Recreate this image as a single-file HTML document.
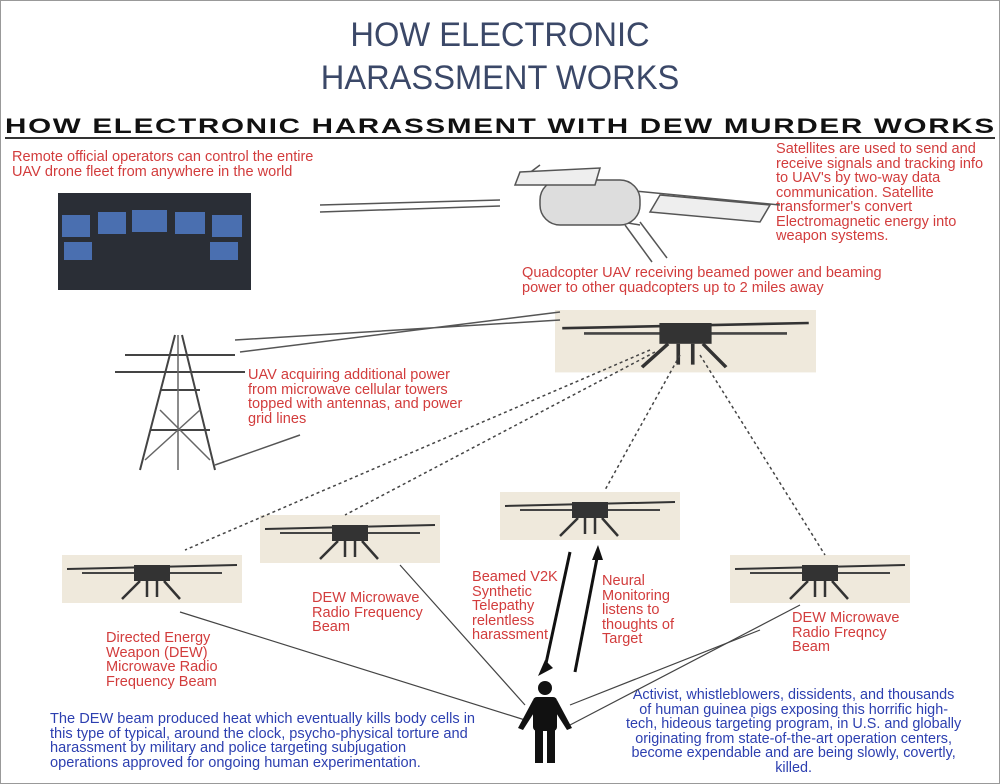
<!DOCTYPE html>
<html><head><meta charset="utf-8"><style>
body{margin:0;width:1000px;height:784px;background:#fff;position:relative;overflow:hidden;font-family:"Liberation Sans",sans-serif}
.t{position:absolute;line-height:14.5px;white-space:nowrap}
.r{color:#d23c3c;font-size:15px;transform:scaleX(0.97);transform-origin:left}
.b{color:#2c3fb0;font-size:14.6px}
</style></head><body>
<div style="position:absolute;left:0;top:0;width:1000px;height:784px;border:1px solid #999;box-sizing:border-box"></div>
<div class="t" style="left:0;width:1000px;text-align:center;top:14px;font-size:34px;color:#3b4868;line-height:43px;transform:scaleX(0.96)">HOW ELECTRONIC<br>HARASSMENT WORKS</div>
<div class="t" style="left:5px;top:116px;font-size:21px;font-weight:bold;color:#111;letter-spacing:1.2px;white-space:nowrap;transform:scaleX(1.41);transform-origin:left;line-height:22px">HOW ELECTRONIC HARASSMENT WITH DEW MURDER WORKS</div>
<div style="position:absolute;left:5px;top:137px;width:990px;height:2px;background:#333"></div>
<div class="t r" style="left:12px;top:150px">Remote official operators can control the entire<br>UAV drone fleet from anywhere in the world</div>
<div class="t r" style="left:776px;top:142px">Satellites are used to send and<br>receive signals and tracking info<br>to UAV's by two-way data<br>communication. Satellite<br>transformer's convert<br>Electromagnetic energy into<br>weapon systems.</div>
<div class="t r" style="left:522px;top:266px">Quadcopter UAV receiving beamed power and beaming<br>power to other quadcopters up to 2 miles away</div>
<div class="t r" style="left:248px;top:368px">UAV acquiring additional power<br>from microwave cellular towers<br>topped  with antennas, and power<br>grid lines</div>
<div class="t r" style="left:312px;top:591px">DEW Microwave<br>Radio Frequency<br>Beam</div>
<div class="t r" style="left:106px;top:631px">Directed Energy<br>Weapon (DEW)<br>Microwave Radio<br>Frequency Beam</div>
<div class="t r" style="left:472px;top:570px">Beamed V2K<br>Synthetic<br>Telepathy<br>relentless<br>harassment</div>
<div class="t r" style="left:602px;top:574px">Neural<br>Monitoring<br>listens to<br>thoughts of<br>Target</div>
<div class="t r" style="left:792px;top:611px">DEW Microwave<br>Radio Freqncy<br>Beam</div>
<div class="t b" style="left:50px;top:712px">The DEW beam produced heat which eventually kills body cells in<br>this type of typical, around the clock, psycho-physical torture and<br>harassment by military and police targeting subjugation<br>operations approved for ongoing human experimentation.</div>
<div class="t b" style="left:626px;top:688px;text-align:center;font-size:14.4px">Activist, whistleblowers, dissidents, and thousands<br>of human guinea pigs exposing this horrific high-<br>tech, hideous targeting program, in U.S. and globally<br>originating from state-of-the-art operation centers,<br>become  expendable and are being slowly, covertly,<br>killed.</div>
<div style="position:absolute;left:58px;top:193px;width:193px;height:97px;background:#2a2e36"></div>
<svg style="position:absolute;left:0;top:0" width="1000" height="784">
<defs>
<g id="d"><rect x="0" y="0" width="180" height="48" fill="#efe9dc"/><line x1="5" y1="14" x2="175" y2="10" stroke="#333" stroke-width="2"/><line x1="20" y1="18" x2="160" y2="18" stroke="#444" stroke-width="2"/><rect x="72" y="10" width="36" height="16" fill="#333"/><path d="M78 26 L60 44 M102 26 L118 44 M85 26 L85 42 M95 26 L95 42" stroke="#333" stroke-width="2.5"/></g>
</defs>
<g fill="#4a6fb0"><rect x="62" y="215" width="28" height="22"/><rect x="98" y="212" width="28" height="22"/><rect x="132" y="210" width="35" height="22"/><rect x="175" y="212" width="30" height="22"/><rect x="212" y="215" width="30" height="22"/><rect x="64" y="242" width="28" height="18"/><rect x="210" y="242" width="28" height="18"/></g>
<use href="#d" x="555" y="310" transform="translate(555 310) scale(1.45 1.3) translate(-555 -310)"/>
<use href="#d" x="500" y="492"/>
<use href="#d" x="260" y="515"/>
<use href="#d" x="62" y="555"/>
<use href="#d" x="730" y="555"/>
<g stroke="#555" stroke-width="1.5" fill="none">
<path d="M520 180 L780 205 M520 180 L540 165 M580 215 L640 225"/>
<rect x="540" y="180" width="100" height="45" rx="20" fill="#ddd"/>
<path d="M660 195 L770 205 L760 222 L650 212 Z" fill="#eee"/>
<path d="M520 172 L600 168 L595 185 L515 185 Z" fill="#eee"/>
<line x1="320" y1="205" x2="500" y2="200"/><line x1="320" y1="212" x2="500" y2="206"/>
<line x1="625" y1="225" x2="652" y2="262"/><line x1="640" y1="222" x2="667" y2="258"/>
<path d="M175 335 L140 470 M182 335 L215 470 M150 430 L210 430 M160 390 L200 390 M125 355 L235 355 M115 372 L245 372" stroke="#444" stroke-width="2"/>
<path d="M178 335 L178 470 M145 460 L200 410 M210 460 L160 410" stroke="#666"/>
<path d="M235 340 L560 320 M240 352 L560 312"/>
<path d="M215 465 L300 435"/>
</g>
<g stroke="#444" stroke-width="1.5" stroke-dasharray="3 3" fill="none">
<line x1="650" y1="350" x2="185" y2="550"/><line x1="655" y1="352" x2="345" y2="515"/>
<line x1="680" y1="355" x2="605" y2="490"/><line x1="700" y1="355" x2="825" y2="555"/>
</g>
<g stroke="#444" stroke-width="1.2">
<line x1="180" y1="612" x2="525" y2="720"/><line x1="400" y1="565" x2="525" y2="705"/>
<line x1="800" y1="605" x2="570" y2="725"/><line x1="570" y1="705" x2="760" y2="630"/>
</g>
<g stroke="#111" stroke-width="3"><line x1="570" y1="552" x2="545" y2="668"/><line x1="575" y1="672" x2="598" y2="553"/></g>
<path d="M538 676 L545 660 L553 668 Z M598 545 L592 560 L603 560 Z" fill="#111"/>
<g fill="#111"><circle cx="545" cy="688" r="7"/><rect x="533" y="697" width="24" height="34" rx="4"/><path d="M533 700 L518 728 L523 730 L537 708 Z M557 700 L572 728 L567 730 L553 708 Z"/><rect x="535" y="729" width="8" height="34"/><rect x="547" y="729" width="8" height="34"/></g>
</svg>
</body></html>
